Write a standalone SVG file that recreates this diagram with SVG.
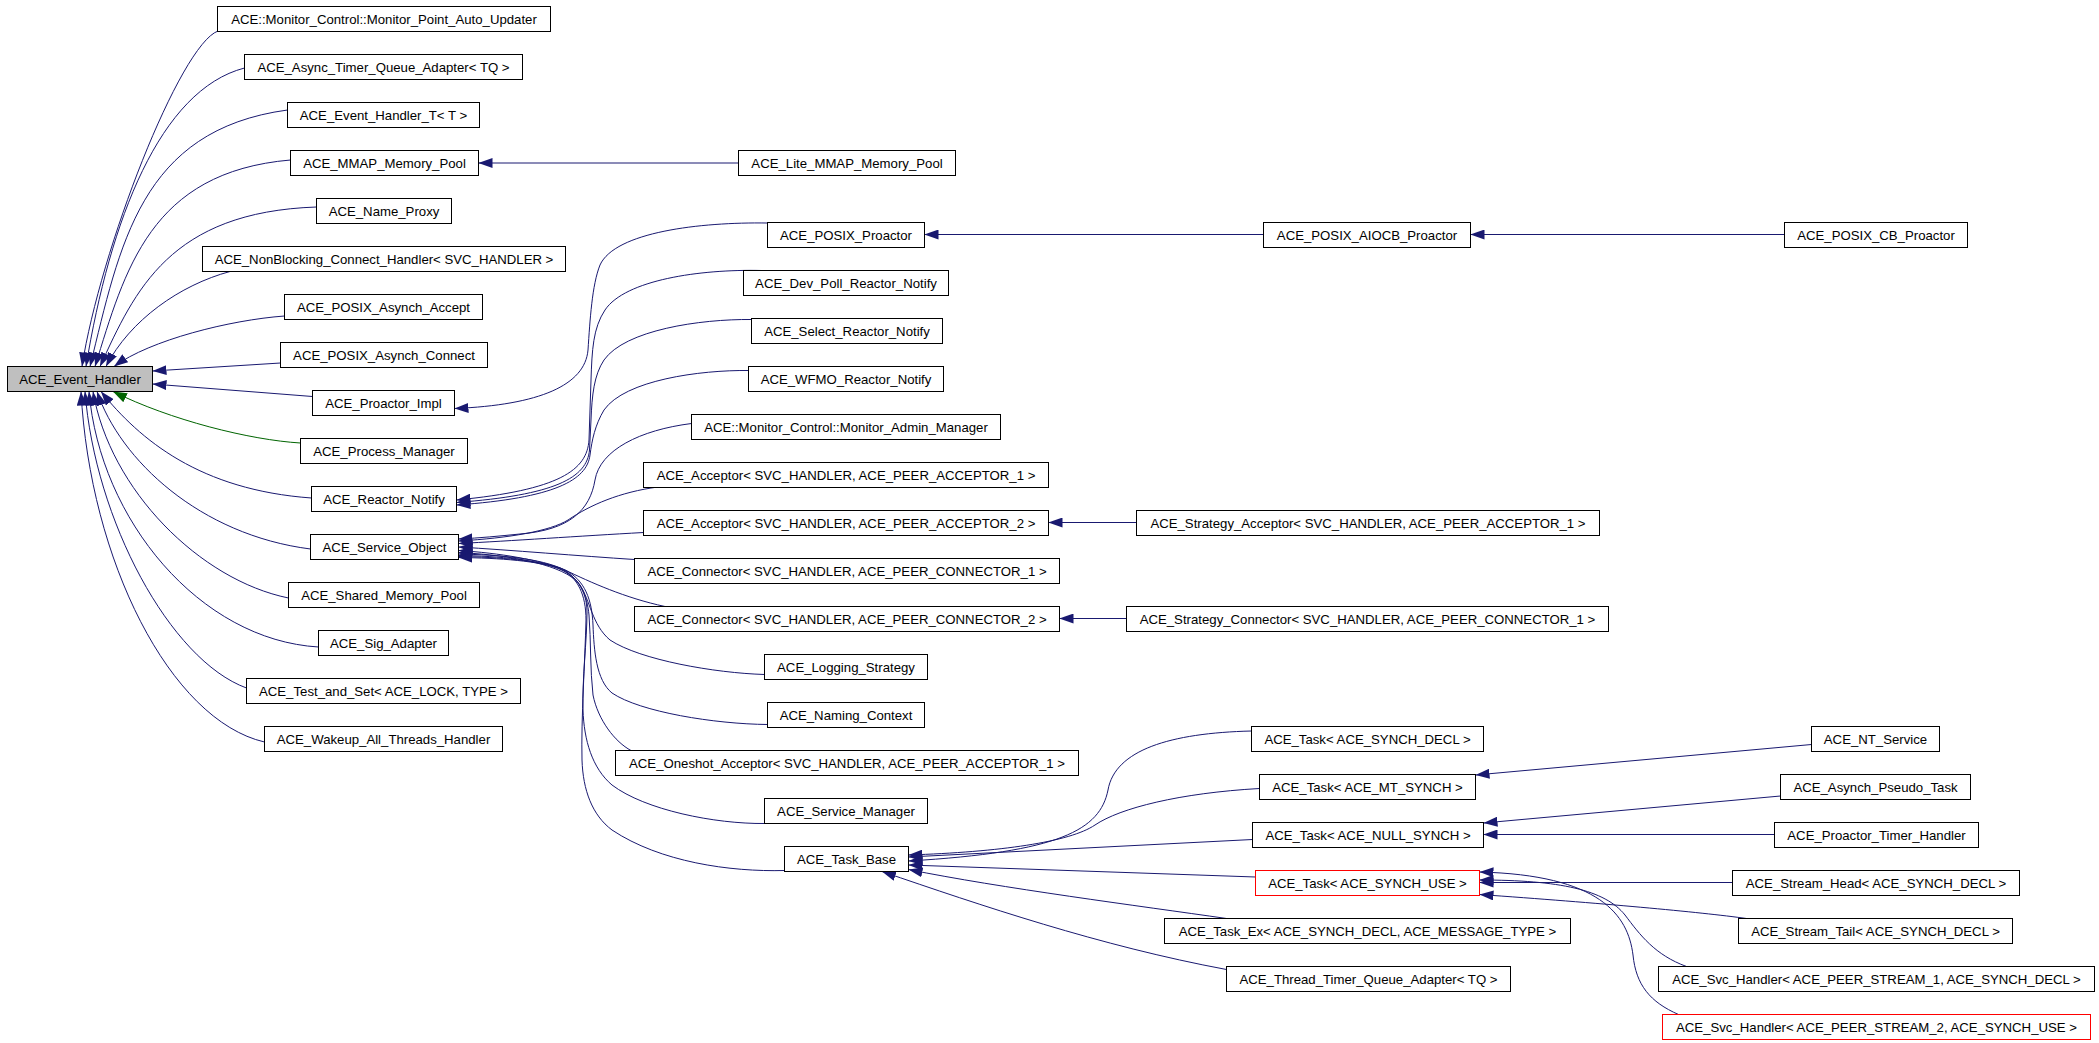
<svg xmlns="http://www.w3.org/2000/svg" width="2099" height="1043" viewBox="0 0 2099 1043">
<style>
.node rect{fill:#fff;stroke:#000;stroke-width:1}
.node.root rect{fill:#bfbfbf}
.node.red rect{stroke:#f00}
.node text{font-family:"Liberation Sans",Arial,Helvetica,sans-serif;font-size:13.2px;text-anchor:middle;fill:#000}
.edge{fill:none;stroke:#191970;stroke-width:1;marker-end:url(#ah)}
.edge.prot{stroke:#006400;marker-end:url(#ahg)}
</style>
<defs>
<marker id="ah" viewBox="0 0 14 10" refX="14" refY="5" markerWidth="14" markerHeight="10" markerUnits="userSpaceOnUse" orient="auto"><path d="M0,0L14,5L0,10z" fill="#191970"/></marker>
<marker id="ahg" viewBox="0 0 14 10" refX="14" refY="5" markerWidth="14" markerHeight="10" markerUnits="userSpaceOnUse" orient="auto"><path d="M0,0L14,5L0,10z" fill="#006400"/></marker>
</defs>
<rect width="2099" height="1043" fill="#fff"/>
<g id="connectors">
<path class="edge" d="M218,31 C180,45 100,250 82,366.5"/>
<path class="edge" d="M244.5,68 C160,90 110,220 86,366.5"/>
<path class="edge" d="M287.5,110 C140,130 120,245 90,366.5"/>
<path class="edge" d="M290.5,160 C150,172 125,270 95,366.5"/>
<path class="edge" d="M316.5,207 C170,212 135,290 100,366.5"/>
<path class="edge" d="M230,271.5 C180,285 130,320 106,366.5"/>
<path class="edge" d="M284.5,316 C230,320 150,340 114,366.5"/>
<path class="edge" d="M280.5,363 L152.5,371"/>
<path class="edge" d="M312.5,396.5 L152.5,384"/>
<path class="edge prot" d="M300.5,443 C250,440 170,420 113,391.5"/>
<path class="edge" d="M311.5,498 C200,490 140,440 101,391.5"/>
<path class="edge" d="M310.5,549 C200,535 120,460 97,391.5"/>
<path class="edge" d="M288.5,598 C200,580 110,490 93,391.5"/>
<path class="edge" d="M318.5,647 C200,640 100,520 89,391.5"/>
<path class="edge" d="M246.5,688 C170,660 95,520 85,391.5"/>
<path class="edge" d="M264.5,742 C170,720 90,560 81,391.5"/>
<path class="edge" d="M738.5,163 L478.5,163"/>
<path class="edge" d="M767.5,223 C700,222 615,232 600,265 C592,285 590,320 588,350 C585,385 540,405 454.5,408.5"/>
<path class="edge" d="M1263.5,234.5 L924.5,234.5"/>
<path class="edge" d="M1784.5,234.5 L1470.5,234.5"/>
<path class="edge" d="M761.5,270.5 C700,269 625,280 605,310 C593,328 592,350 591,380 L589,440 C587,470 560,490 456.5,500"/>
<path class="edge" d="M751.5,319.5 C700,319 625,330 604,360 C594,375 592,395 591,420 L589.5,450 C587,478 555,495 456.5,502.5"/>
<path class="edge" d="M748.5,370.5 C700,370 625,380 604,410 C595,425 592,440 590,455 C587,480 555,498 456.5,505"/>
<path class="edge" d="M691.5,423.5 C640,430 600,450 595,480 C590,510 570,530 520,534 C500,536 480,538 458.5,539"/>
<path class="edge" d="M658,487 C620,492 590,505 568,520 C550,531 510,538 458.5,541"/>
<path class="edge" d="M643.5,532.5 C580,536 510,541 458.5,543.5"/>
<path class="edge" d="M634.5,559.5 C580,556 510,550 458.5,547"/>
<path class="edge" d="M665,606.5 C625,598 590,582 565,570 C540,560 500,553 458.5,550.5"/>
<path class="edge" d="M764.5,674.5 C715,673 640,660 610,640 C592,625 590,600 580,585 C570,570 530,556 458.5,552.5"/>
<path class="edge" d="M767.5,724.5 C715,724 640,712 612,693 C596,680 594,650 593,625 C592,600 585,580 565,570 C540,558 500,555 458.5,554"/>
<path class="edge" d="M631,750.5 C615,742 598,720 593,695 C590,670 591,640 589,615 C587,595 580,578 562,570 C540,560 500,556 458.5,555.5"/>
<path class="edge" d="M764.5,823.5 C715,824 645,810 612,785 C592,768 584,740 583,710 C582,680 587,640 587,612 C587,590 575,575 560,568 C540,561 500,557 458.5,556.5"/>
<path class="edge" d="M784.5,870.5 C730,872 660,862 612,830 C592,815 583,790 582,760 C581,720 585,660 586,620 C586,595 578,577 560,569 C540,561 500,558 458.5,557.5"/>
<path class="edge" d="M1136.5,522.5 L1048.5,522.5"/>
<path class="edge" d="M1126.5,618.5 L1059.5,618.5"/>
<path class="edge" d="M1251.5,731 C1170,733 1115,750 1108,790 C1100,830 1060,852 908.5,861"/>
<path class="edge" d="M1259.5,788.5 C1180,793 1120,808 1095,825 C1070,842 1000,852 908.5,855"/>
<path class="edge" d="M1252.5,839.5 L908.5,857"/>
<path class="edge" d="M1255.5,877 L908.5,865"/>
<path class="edge" d="M1226.5,918.5 C1140,906 1000,888 908.5,869.5"/>
<path class="edge" d="M1226.5,969.5 C1100,946 980,905 882,871.5"/>
<path class="edge" d="M1811.5,744.5 L1475.5,775"/>
<path class="edge" d="M1780.5,796 L1483.5,823"/>
<path class="edge" d="M1774.5,834.5 L1483.5,834.5"/>
<path class="edge" d="M1732.5,882.5 L1479.5,882.5"/>
<path class="edge" d="M1746.5,918.5 C1700,912 1600,903 1479.5,894.5"/>
<path class="edge" d="M1686.5,966.5 C1655,955 1640,935 1625,915 C1605,890 1560,880 1479.5,880"/>
<path class="edge" d="M1678.5,1014.5 C1650,1002 1636,985 1633,955 C1628,915 1600,875 1479.5,872"/>
</g>
<g id="n_event_handler" class="node root"><rect x="7.5" y="366.5" width="145" height="25"/><text x="80" y="383.5">ACE_Event_Handler</text></g>
<g id="n_monitor_point" class="node"><rect x="217.5" y="6.5" width="333" height="25"/><text x="384" y="23.5">ACE::Monitor_Control::Monitor_Point_Auto_Updater</text></g>
<g id="n_async_tqa" class="node"><rect x="244.5" y="54.5" width="278" height="25"/><text x="383.5" y="71.5">ACE_Async_Timer_Queue_Adapter&lt; TQ &gt;</text></g>
<g id="n_event_handler_t" class="node"><rect x="287.5" y="102.5" width="192" height="25"/><text x="383.5" y="119.5">ACE_Event_Handler_T&lt; T &gt;</text></g>
<g id="n_mmap" class="node"><rect x="290.5" y="150.5" width="188" height="25"/><text x="384.5" y="167.5">ACE_MMAP_Memory_Pool</text></g>
<g id="n_lite_mmap" class="node"><rect x="738.5" y="150.5" width="217" height="25"/><text x="847" y="167.5">ACE_Lite_MMAP_Memory_Pool</text></g>
<g id="n_name_proxy" class="node"><rect x="316.5" y="198.5" width="135" height="25"/><text x="384" y="215.5">ACE_Name_Proxy</text></g>
<g id="n_posix_proactor" class="node"><rect x="767.5" y="222.5" width="157" height="25"/><text x="846" y="239.5">ACE_POSIX_Proactor</text></g>
<g id="n_posix_aiocb" class="node"><rect x="1263.5" y="222.5" width="207" height="25"/><text x="1367" y="239.5">ACE_POSIX_AIOCB_Proactor</text></g>
<g id="n_posix_cb" class="node"><rect x="1784.5" y="222.5" width="183" height="25"/><text x="1876" y="239.5">ACE_POSIX_CB_Proactor</text></g>
<g id="n_nonblocking" class="node"><rect x="202.5" y="246.5" width="363" height="25"/><text x="384" y="263.5">ACE_NonBlocking_Connect_Handler&lt; SVC_HANDLER &gt;</text></g>
<g id="n_dev_poll" class="node"><rect x="743.5" y="270.5" width="205" height="25"/><text x="846" y="287.5">ACE_Dev_Poll_Reactor_Notify</text></g>
<g id="n_posix_accept" class="node"><rect x="284.5" y="294.5" width="198" height="25"/><text x="383.5" y="311.5">ACE_POSIX_Asynch_Accept</text></g>
<g id="n_select_notify" class="node"><rect x="751.5" y="318.5" width="191" height="25"/><text x="847" y="335.5">ACE_Select_Reactor_Notify</text></g>
<g id="n_posix_connect" class="node"><rect x="280.5" y="342.5" width="207" height="25"/><text x="384" y="359.5">ACE_POSIX_Asynch_Connect</text></g>
<g id="n_wfmo_notify" class="node"><rect x="748.5" y="366.5" width="195" height="25"/><text x="846" y="383.5">ACE_WFMO_Reactor_Notify</text></g>
<g id="n_proactor_impl" class="node"><rect x="312.5" y="390.5" width="142" height="25"/><text x="383.5" y="407.5">ACE_Proactor_Impl</text></g>
<g id="n_monitor_admin" class="node"><rect x="691.5" y="414.5" width="309" height="25"/><text x="846" y="431.5">ACE::Monitor_Control::Monitor_Admin_Manager</text></g>
<g id="n_process_manager" class="node"><rect x="300.5" y="438.5" width="167" height="25"/><text x="384" y="455.5">ACE_Process_Manager</text></g>
<g id="n_acceptor1" class="node"><rect x="643.5" y="462.5" width="405" height="25"/><text x="846" y="479.5">ACE_Acceptor&lt; SVC_HANDLER, ACE_PEER_ACCEPTOR_1 &gt;</text></g>
<g id="n_reactor_notify" class="node"><rect x="311.5" y="486.5" width="145" height="25"/><text x="384" y="503.5">ACE_Reactor_Notify</text></g>
<g id="n_acceptor2" class="node"><rect x="643.5" y="510.5" width="405" height="25"/><text x="846" y="527.5">ACE_Acceptor&lt; SVC_HANDLER, ACE_PEER_ACCEPTOR_2 &gt;</text></g>
<g id="n_strategy_acceptor" class="node"><rect x="1136.5" y="510.5" width="463" height="25"/><text x="1368" y="527.5">ACE_Strategy_Acceptor&lt; SVC_HANDLER, ACE_PEER_ACCEPTOR_1 &gt;</text></g>
<g id="n_service_object" class="node"><rect x="310.5" y="534.5" width="148" height="25"/><text x="384.5" y="551.5">ACE_Service_Object</text></g>
<g id="n_connector1" class="node"><rect x="634.5" y="558.5" width="425" height="25"/><text x="847" y="575.5">ACE_Connector&lt; SVC_HANDLER, ACE_PEER_CONNECTOR_1 &gt;</text></g>
<g id="n_shared_memory_pool" class="node"><rect x="288.5" y="582.5" width="191" height="25"/><text x="384" y="599.5">ACE_Shared_Memory_Pool</text></g>
<g id="n_connector2" class="node"><rect x="634.5" y="606.5" width="425" height="25"/><text x="847" y="623.5">ACE_Connector&lt; SVC_HANDLER, ACE_PEER_CONNECTOR_2 &gt;</text></g>
<g id="n_strategy_connector" class="node"><rect x="1126.5" y="606.5" width="482" height="25"/><text x="1367.5" y="623.5">ACE_Strategy_Connector&lt; SVC_HANDLER, ACE_PEER_CONNECTOR_1 &gt;</text></g>
<g id="n_sig_adapter" class="node"><rect x="318.5" y="630.5" width="130" height="25"/><text x="383.5" y="647.5">ACE_Sig_Adapter</text></g>
<g id="n_logging_strategy" class="node"><rect x="764.5" y="654.5" width="163" height="25"/><text x="846" y="671.5">ACE_Logging_Strategy</text></g>
<g id="n_test_and_set" class="node"><rect x="246.5" y="678.5" width="274" height="25"/><text x="383.5" y="695.5">ACE_Test_and_Set&lt; ACE_LOCK, TYPE &gt;</text></g>
<g id="n_naming_context" class="node"><rect x="767.5" y="702.5" width="157" height="25"/><text x="846" y="719.5">ACE_Naming_Context</text></g>
<g id="n_wakeup" class="node"><rect x="264.5" y="726.5" width="238" height="25"/><text x="383.5" y="743.5">ACE_Wakeup_All_Threads_Handler</text></g>
<g id="n_task_synch_decl" class="node"><rect x="1251.5" y="726.5" width="232" height="25"/><text x="1367.5" y="743.5">ACE_Task&lt; ACE_SYNCH_DECL &gt;</text></g>
<g id="n_nt_service" class="node"><rect x="1811.5" y="726.5" width="128" height="25"/><text x="1875.5" y="743.5">ACE_NT_Service</text></g>
<g id="n_oneshot" class="node"><rect x="615.5" y="750.5" width="463" height="25"/><text x="847" y="767.5">ACE_Oneshot_Acceptor&lt; SVC_HANDLER, ACE_PEER_ACCEPTOR_1 &gt;</text></g>
<g id="n_task_mt" class="node"><rect x="1259.5" y="774.5" width="216" height="25"/><text x="1367.5" y="791.5">ACE_Task&lt; ACE_MT_SYNCH &gt;</text></g>
<g id="n_asynch_pseudo" class="node"><rect x="1780.5" y="774.5" width="190" height="25"/><text x="1875.5" y="791.5">ACE_Asynch_Pseudo_Task</text></g>
<g id="n_service_manager" class="node"><rect x="764.5" y="798.5" width="163" height="25"/><text x="846" y="815.5">ACE_Service_Manager</text></g>
<g id="n_task_null" class="node"><rect x="1252.5" y="822.5" width="231" height="25"/><text x="1368" y="839.5">ACE_Task&lt; ACE_NULL_SYNCH &gt;</text></g>
<g id="n_proactor_timer" class="node"><rect x="1774.5" y="822.5" width="204" height="25"/><text x="1876.5" y="839.5">ACE_Proactor_Timer_Handler</text></g>
<g id="n_task_base" class="node"><rect x="784.5" y="846.5" width="124" height="25"/><text x="846.5" y="863.5">ACE_Task_Base</text></g>
<g id="n_task_synch_use" class="node red"><rect x="1255.5" y="870.5" width="224" height="25"/><text x="1367.5" y="887.5">ACE_Task&lt; ACE_SYNCH_USE &gt;</text></g>
<g id="n_stream_head" class="node"><rect x="1732.5" y="870.5" width="287" height="25"/><text x="1876" y="887.5">ACE_Stream_Head&lt; ACE_SYNCH_DECL &gt;</text></g>
<g id="n_task_ex" class="node"><rect x="1164.5" y="918.5" width="406" height="25"/><text x="1367.5" y="935.5">ACE_Task_Ex&lt; ACE_SYNCH_DECL, ACE_MESSAGE_TYPE &gt;</text></g>
<g id="n_stream_tail" class="node"><rect x="1738.5" y="918.5" width="274" height="25"/><text x="1875.5" y="935.5">ACE_Stream_Tail&lt; ACE_SYNCH_DECL &gt;</text></g>
<g id="n_thread_timer" class="node"><rect x="1226.5" y="966.5" width="284" height="25"/><text x="1368.5" y="983.5">ACE_Thread_Timer_Queue_Adapter&lt; TQ &gt;</text></g>
<g id="n_svc_handler1" class="node"><rect x="1658.5" y="966.5" width="436" height="25"/><text x="1876.5" y="983.5">ACE_Svc_Handler&lt; ACE_PEER_STREAM_1, ACE_SYNCH_DECL &gt;</text></g>
<g id="n_svc_handler2" class="node red"><rect x="1662.5" y="1014.5" width="428" height="25"/><text x="1876.5" y="1031.5">ACE_Svc_Handler&lt; ACE_PEER_STREAM_2, ACE_SYNCH_USE &gt;</text></g>
</svg>
